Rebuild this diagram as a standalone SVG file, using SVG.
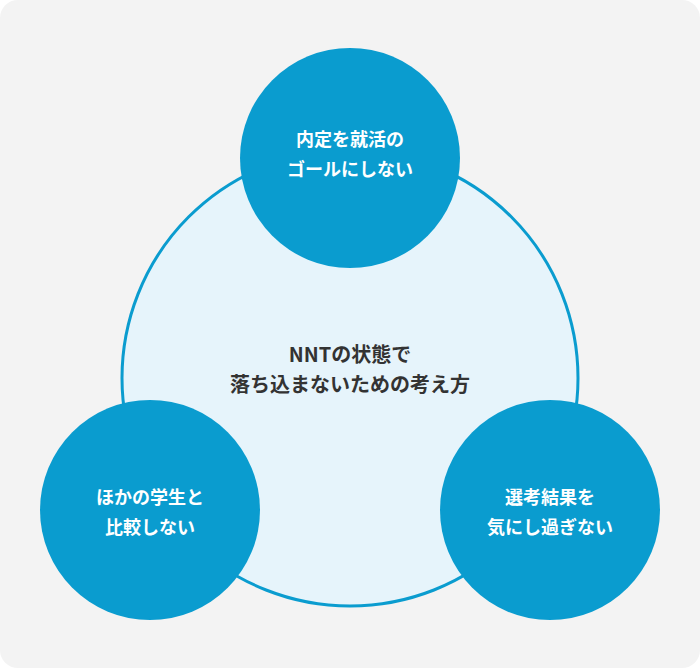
<svg xmlns="http://www.w3.org/2000/svg" width="700" height="668" viewBox="0 0 700 668">
<style>
.s{fill:#0a9ccf}
.t{font-family:"Noto Sans CJK JP","Noto Sans",sans-serif;font-weight:bold;font-size:18px;fill:#fff;text-anchor:middle}
.c{font-family:"Noto Sans CJK JP","Noto Sans",sans-serif;font-weight:bold;font-size:20px;fill:#333;text-anchor:middle}
</style>
<rect x="0" y="0" width="700" height="668" rx="18" fill="#f3f3f3"/>
<g id="center">
<circle cx="350" cy="378" r="228" fill="#e6f4fb" stroke="#0a9ccf" stroke-width="3"/>
<text class="c" x="350" y="362">NNTの状態で</text>
<text class="c" x="350" y="392">落ち込まないための考え方</text>
</g>
<g id="top">
<circle class="s" cx="350" cy="158" r="110"/>
<text class="t" x="350" y="146">内定を就活の</text>
<text class="t" x="350" y="176">ゴールにしない</text>
</g>
<g id="left">
<circle class="s" cx="150" cy="510" r="110"/>
<text class="t" x="150" y="504">ほかの学生と</text>
<text class="t" x="150" y="534">比較しない</text>
</g>
<g id="right">
<circle class="s" cx="550" cy="510" r="110"/>
<text class="t" x="550" y="504">選考結果を</text>
<text class="t" x="550" y="534">気にし過ぎない</text>
</g>
<g id="connectors"/>
</svg>
